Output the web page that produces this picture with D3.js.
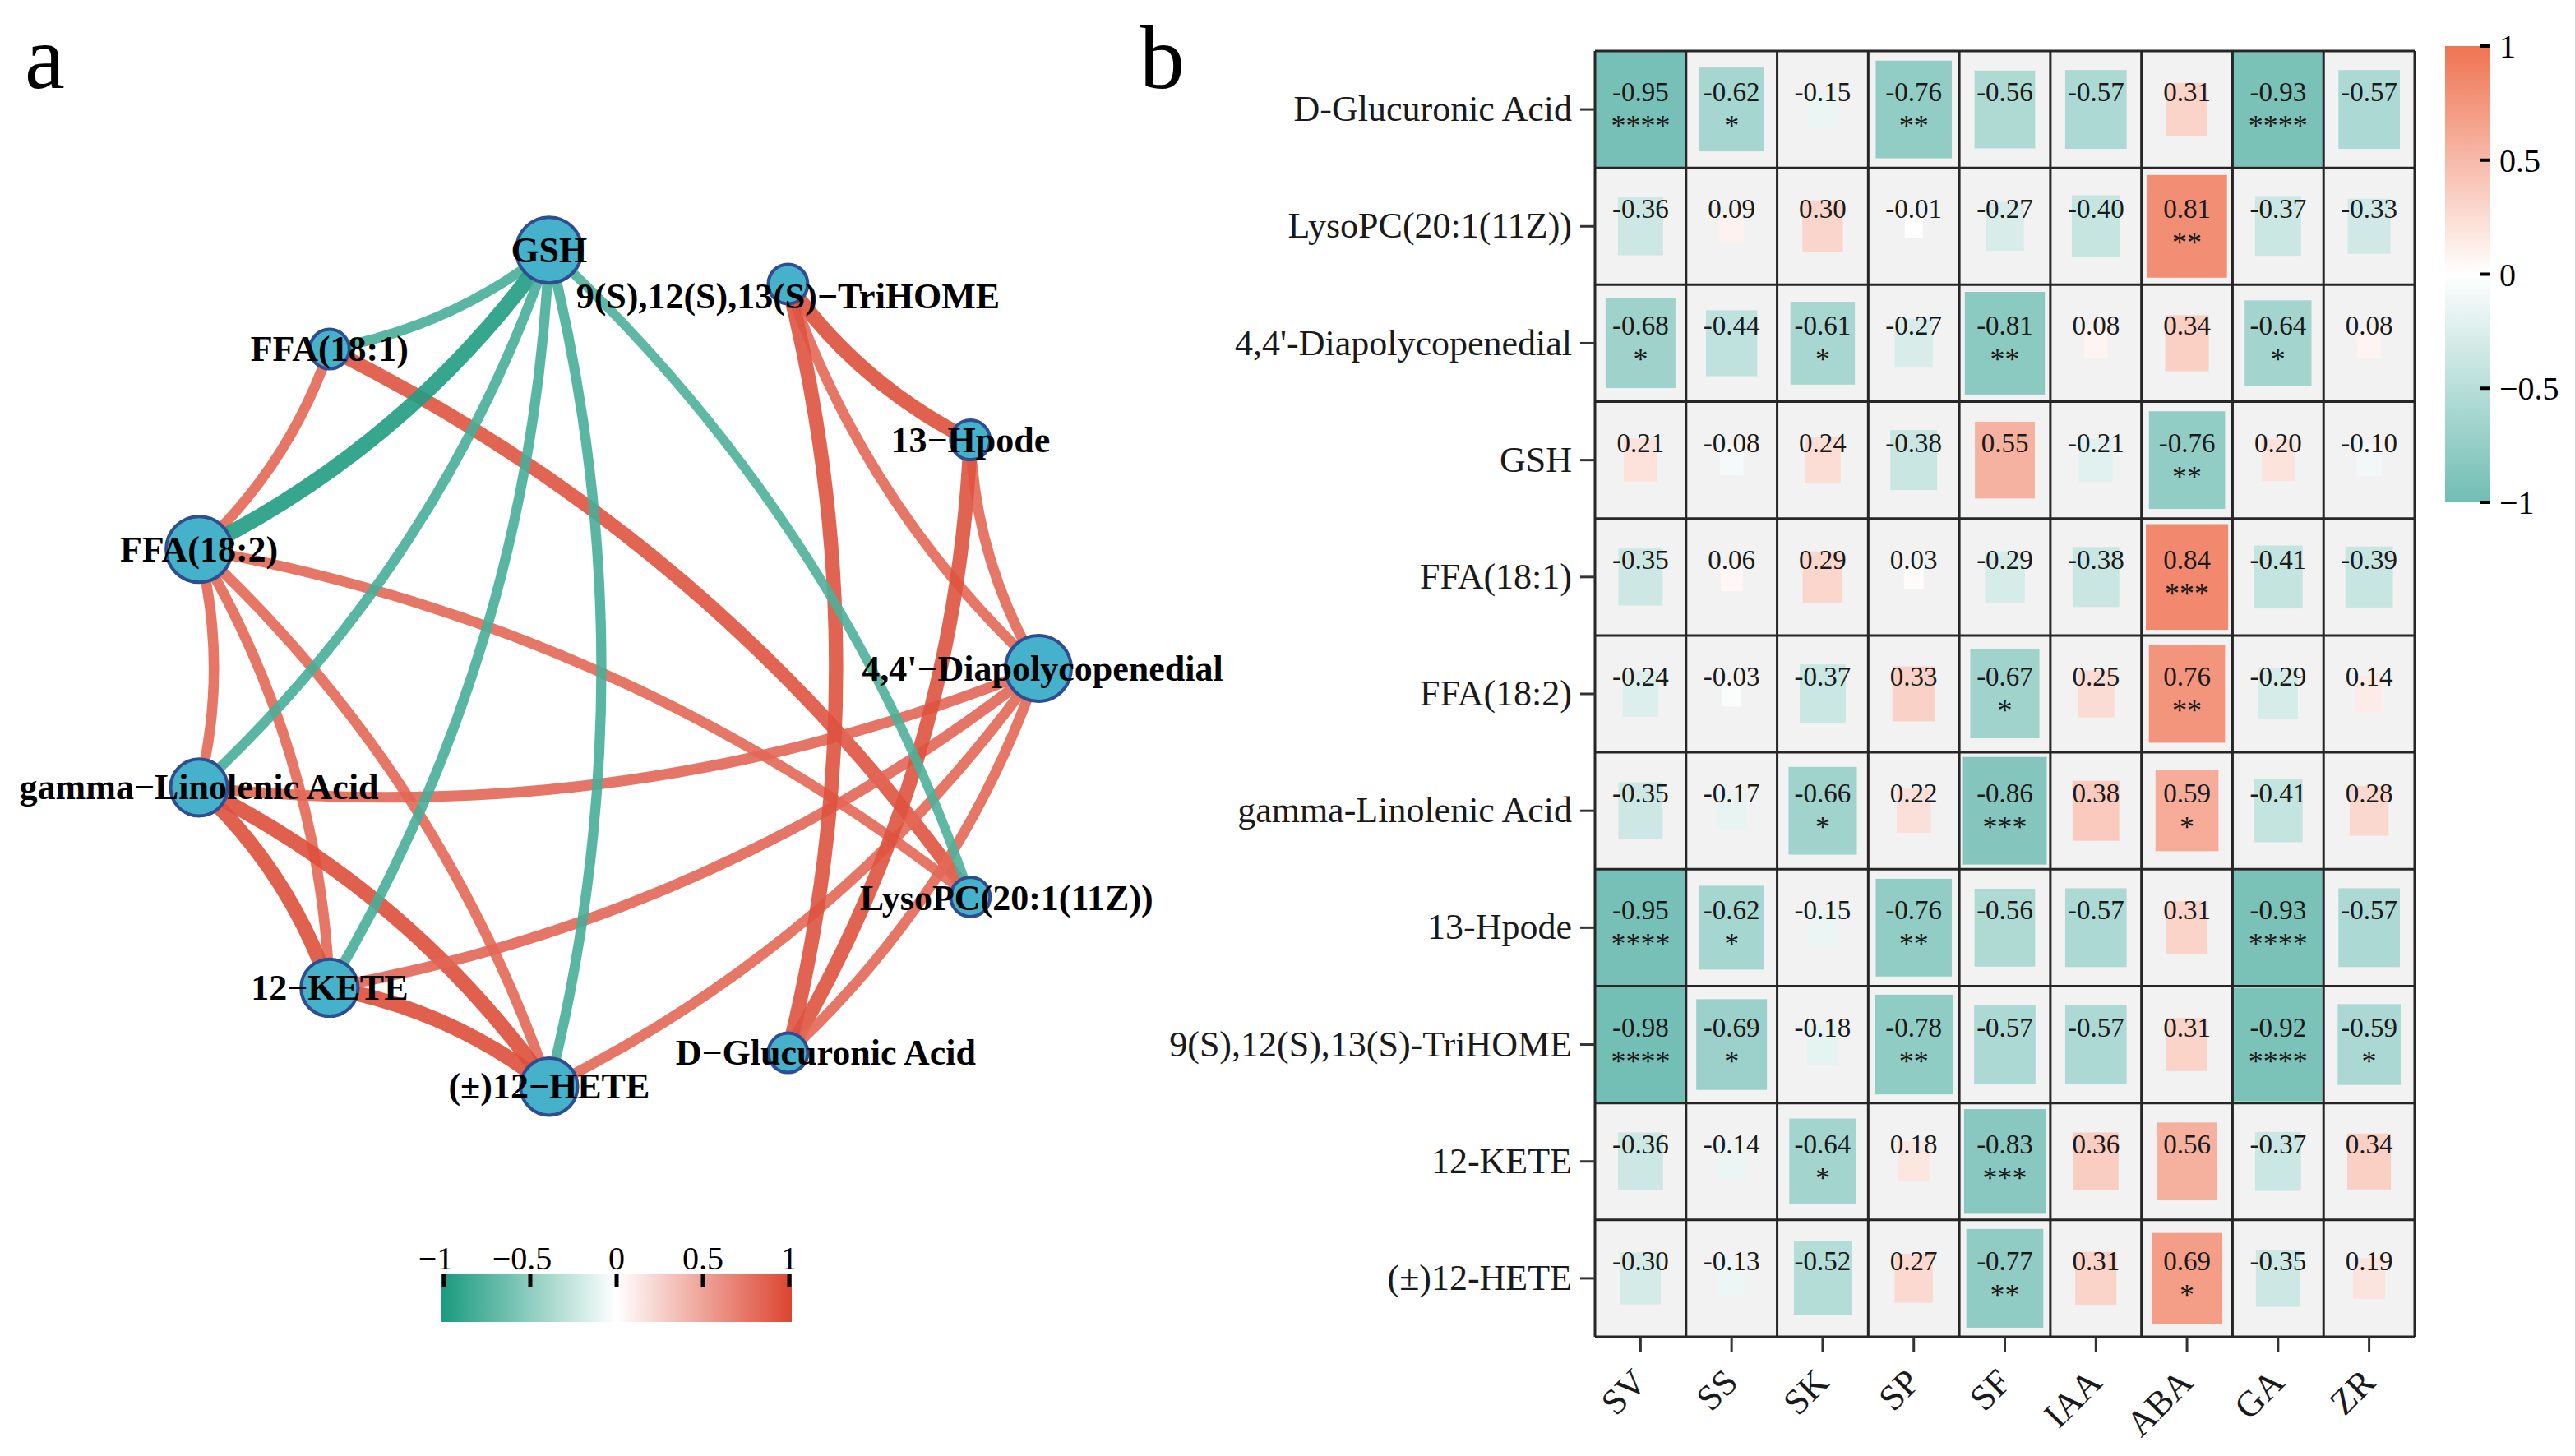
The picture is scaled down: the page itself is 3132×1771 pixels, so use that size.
<!DOCTYPE html>
<html>
<head>
<meta charset="utf-8">
<script src="https://cdn.jsdelivr.net/npm/d3@7"></script>
<style>
  html, body { margin: 0; padding: 0; background: #fff; }
  svg text { font-family: "Liberation Serif", "Times New Roman", serif; }
</style>
</head>
<body>
<div id="chart"></div>
<script>
// ---- panel a: correlation network ----
// nodes in circular layout order (counter-clockwise from the right)
const nodeNames = ["4,4'−Diapolycopenedial", '13−Hpode', '9(S),12(S),13(S)−TriHOME', 'GSH',
    'FFA(18:1)', 'FFA(18:2)', 'gamma−Linolenic Acid', '12−KETE', '(±)12−HETE',
    'D−Glucuronic Acid', 'LysoPC(20:1(11Z))'];

const edgeFrom = ['FFA(18:1)', 'FFA(18:1)', 'FFA(18:2)', 'FFA(18:2)', 'FFA(18:2)', 'FFA(18:2)',
    'gamma−Linolenic Acid', 'gamma−Linolenic Acid', 'gamma−Linolenic Acid', '12−KETE', '12−KETE',
    '(±)12−HETE', '9(S),12(S),13(S)−TriHOME', '9(S),12(S),13(S)−TriHOME', '9(S),12(S),13(S)−TriHOME',
    '13−Hpode', '13−Hpode', "4,4'−Diapolycopenedial",
    'GSH', 'GSH', 'GSH', 'GSH', 'GSH', 'GSH'];
const edgeTo = ['FFA(18:2)', 'LysoPC(20:1(11Z))', 'gamma−Linolenic Acid', '12−KETE', '(±)12−HETE', 'LysoPC(20:1(11Z))',
    "4,4'−Diapolycopenedial", '12−KETE', '(±)12−HETE', '(±)12−HETE', "4,4'−Diapolycopenedial",
    "4,4'−Diapolycopenedial", '13−Hpode', "4,4'−Diapolycopenedial", 'D−Glucuronic Acid',
    "4,4'−Diapolycopenedial", 'D−Glucuronic Acid', 'D−Glucuronic Acid',
    'FFA(18:1)', 'FFA(18:2)', 'gamma−Linolenic Acid', '12−KETE', '(±)12−HETE', 'LysoPC(20:1(11Z))'];
const edgeR = [0.81, 0.92, 0.81, 0.81, 0.81, 0.81,
    0.82, 0.94, 0.95, 0.95, 0.82,
    0.81, 0.94, 0.81, 0.93,
    0.81, 0.93, 0.81,
    -0.80, -0.97, -0.80, -0.80, -0.80, -0.78];

const netLegendTicks = [-1, -0.5, 0, 0.5, 1];

// ---- panel b: correlation heatmap ----
const rowNames = ['D-Glucuronic Acid', 'LysoPC(20:1(11Z))', "4,4'-Diapolycopenedial", 'GSH', 'FFA(18:1)',
    'FFA(18:2)', 'gamma-Linolenic Acid', '13-Hpode', '9(S),12(S),13(S)-TriHOME', '12-KETE', '(±)12-HETE'];
const colNames = ['SV', 'SS', 'SK', 'SP', 'SF', 'IAA', 'ABA', 'GA', 'ZR'];
const corrValues = [
    [-0.95, -0.62, -0.15, -0.76, -0.56, -0.57, 0.31, -0.93, -0.57],
    [-0.36, 0.09, 0.30, -0.01, -0.27, -0.40, 0.81, -0.37, -0.33],
    [-0.68, -0.44, -0.61, -0.27, -0.81, 0.08, 0.34, -0.64, 0.08],
    [0.21, -0.08, 0.24, -0.38, 0.55, -0.21, -0.76, 0.20, -0.10],
    [-0.35, 0.06, 0.29, 0.03, -0.29, -0.38, 0.84, -0.41, -0.39],
    [-0.24, -0.03, -0.37, 0.33, -0.67, 0.25, 0.76, -0.29, 0.14],
    [-0.35, -0.17, -0.66, 0.22, -0.86, 0.38, 0.59, -0.41, 0.28],
    [-0.95, -0.62, -0.15, -0.76, -0.56, -0.57, 0.31, -0.93, -0.57],
    [-0.98, -0.69, -0.18, -0.78, -0.57, -0.57, 0.31, -0.92, -0.59],
    [-0.36, -0.14, -0.64, 0.18, -0.83, 0.36, 0.56, -0.37, 0.34],
    [-0.30, -0.13, -0.52, 0.27, -0.77, 0.31, 0.69, -0.35, 0.19]
];
const corrStars = [
    ['****', '*', '', '**', '', '', '', '****', ''],
    ['', '', '', '', '', '', '**', '', ''],
    ['*', '', '*', '', '**', '', '', '*', ''],
    ['', '', '', '', '', '', '**', '', ''],
    ['', '', '', '', '', '', '***', '', ''],
    ['', '', '', '', '*', '', '**', '', ''],
    ['', '', '*', '', '***', '', '*', '', ''],
    ['****', '*', '', '**', '', '', '', '****', ''],
    ['****', '*', '', '**', '', '', '', '****', '*'],
    ['', '', '*', '', '***', '', '', '', ''],
    ['', '', '', '', '**', '', '*', '', '']
];
const heatLegendTicks = [1, 0.5, 0, -0.5, -1];

// ---- canvas ----
const W = 3132, H = 1771;
const svg = d3.select('#chart').append('svg')
    .attr('width', W).attr('height', H)
    .attr('viewBox', `0 0 ${W} ${H}`);
svg.append('rect').attr('width', W).attr('height', H).attr('fill', '#fff');
const defs = svg.append('defs');
const fmtTick = v => String(v).replace('-', '−');

// panel letters
svg.append('text').attr('x', 30).attr('y', 107).attr('font-size', 110).text('a');
svg.append('text').attr('x', 1386).attr('y', 107).attr('font-size', 110).text('b');

// ================= network =================
const edgeColor = d3.scaleLinear().domain([-1, 0, 1]).range(['#199a7e', '#ffffff', '#dc4530']);
const edgeWidth = d3.scaleLinear().domain([0.78, 0.97]).range([11.5, 19]).clamp(true);

const cx = 742, cy = 813, rx = 521, ry = 514;
const angle = d3.scaleLinear().domain([0, nodeNames.length]).range([0, 2 * Math.PI]);
const nodes = nodeNames.map((name, i) => ({
    name, i,
    x: cx + rx * Math.cos(angle(i)),
    y: cy - ry * Math.sin(angle(i)),
    degree: 0
}));
const byName = new Map(nodes.map(n => [n.name, n]));

const edges = edgeFrom.map((f, i) => {
    let a = byName.get(f), b = byName.get(edgeTo[i]);
    if (a.i > b.i) [a, b] = [b, a];
    a.degree++; b.degree++;
    return { a, b, r: edgeR[i] };
});

// curved edges: quadratic bend to the right of the from->to direction
const bend = 0.125;
const edgePath = e => {
    const dx = e.b.x - e.a.x, dy = e.b.y - e.a.y;
    const mx = (e.a.x + e.b.x) / 2 + bend * dy;
    const my = (e.a.y + e.b.y) / 2 - bend * dx;
    const p = d3.path();
    p.moveTo(e.a.x, e.a.y);
    p.quadraticCurveTo(mx, my, e.b.x, e.b.y);
    return p.toString();
};

const net = svg.append('g');
net.selectAll('path.edge')
    .data(edges)
    .enter()
    .append('path')
    .attr('class', 'edge')
    .attr('d', edgePath)
    .attr('fill', 'none')
    .attr('stroke', d => edgeColor(d.r))
    .attr('stroke-width', d => edgeWidth(Math.abs(d.r)))
    .attr('stroke-opacity', 0.9);

const nodeRadius = d3.scaleLinear().domain([3, 6]).range([24, 40]);
net.selectAll('circle.node')
    .data(nodes)
    .enter()
    .append('circle')
    .attr('class', 'node')
    .attr('cx', d => d.x)
    .attr('cy', d => d.y)
    .attr('r', d => nodeRadius(d.degree))
    .attr('fill', '#45b1cb')
    .attr('stroke', '#2f4d91')
    .attr('stroke-width', 4);

// small label nudges (repelled labels in the original)
const labelNudge = {
    '9(S),12(S),13(S)−TriHOME': [0, 15],
    "4,4'−Diapolycopenedial": [5, 0],
    'LysoPC(20:1(11Z))': [44, 2],
    'D−Glucuronic Acid': [46, 0]
};
net.selectAll('text.label')
    .data(nodes)
    .enter()
    .append('text')
    .attr('class', 'label')
    .attr('x', d => d.x + (labelNudge[d.name] || [0, 0])[0])
    .attr('y', d => d.y + (labelNudge[d.name] || [0, 0])[1])
    .attr('dy', '0.33em')
    .attr('text-anchor', 'middle')
    .attr('font-size', 44)
    .attr('font-weight', 'bold')
    .attr('fill', '#000')
    .text(d => d.name);

// network colour legend
const nl = d3.scaleLinear().domain([-1, 1]).range([540, 960]);
const nlTop = 1550, nlH = 58;
const gradA = defs.append('linearGradient').attr('id', 'gradA')
    .attr('x1', '0%').attr('x2', '100%').attr('y1', '0%').attr('y2', '0%');
d3.range(-1, 1.001, 0.1).forEach(v => {
    gradA.append('stop').attr('offset', `${(v + 1) / 2 * 100}%`).attr('stop-color', edgeColor(v));
});
const leg = svg.append('g');
leg.append('rect')
    .attr('x', nl(-1) - 3).attr('y', nlTop)
    .attr('width', nl(1) - nl(-1) + 6).attr('height', nlH)
    .attr('fill', 'url(#gradA)');
leg.selectAll('line')
    .data(netLegendTicks)
    .enter()
    .append('line')
    .attr('x1', d => nl(d)).attr('x2', d => nl(d))
    .attr('y1', nlTop).attr('y2', nlTop + 16)
    .attr('stroke', '#000').attr('stroke-width', 5);
leg.selectAll('text')
    .data(netLegendTicks)
    .enter()
    .append('text')
    .attr('x', d => nl(d) - (d < 0 ? 10 : 0))
    .attr('y', nlTop - 6)
    .attr('text-anchor', 'middle')
    .attr('font-size', 40)
    .text(fmtTick);

// ================= heatmap =================
const heatColor = d3.scaleLinear().domain([-1, 0, 1]).range(['#70bdb3', '#ffffff', '#ef7352']);
const sizeFrac = d3.scaleLinear().domain([0, 1]).range([0.19, 1.04]).clamp(true);

const hx = d3.scaleBand().domain(colNames).range([1940, 2937]);
const hy = d3.scaleBand().domain(rowNames).range([62, 1626]);
const cw = hx.bandwidth(), ch = hy.bandwidth();

const cells = [];
rowNames.forEach((row, i) => colNames.forEach((col, j) => {
    cells.push({ row, col, r: corrValues[i][j], star: corrStars[i][j] });
}));

const hm = svg.append('g');
hm.selectAll('rect.bg')
    .data(cells)
    .enter()
    .append('rect')
    .attr('class', 'bg')
    .attr('x', d => hx(d.col)).attr('y', d => hy(d.row))
    .attr('width', cw).attr('height', ch)
    .attr('fill', '#f2f2f2');

hm.selectAll('rect.val')
    .data(cells)
    .enter()
    .append('rect')
    .attr('class', 'val')
    .attr('x', d => hx(d.col) + cw * (1 - Math.min(1, sizeFrac(Math.abs(d.r)))) / 2)
    .attr('y', d => hy(d.row) + ch * (1 - Math.min(1, sizeFrac(Math.abs(d.r)))) / 2)
    .attr('width', d => cw * Math.min(1, sizeFrac(Math.abs(d.r))))
    .attr('height', d => ch * Math.min(1, sizeFrac(Math.abs(d.r))))
    .attr('fill', d => heatColor(d.r));

// grid lines
hm.selectAll('line.vg')
    .data(d3.range(colNames.length + 1))
    .enter()
    .append('line')
    .attr('x1', i => 1940 + i * cw).attr('x2', i => 1940 + i * cw)
    .attr('y1', 62).attr('y2', 1626)
    .attr('stroke', '#262626').attr('stroke-width', 3);
hm.selectAll('line.hg')
    .data(d3.range(rowNames.length + 1))
    .enter()
    .append('line')
    .attr('y1', i => 62 + i * ch).attr('y2', i => 62 + i * ch)
    .attr('x1', 1940).attr('x2', 2937)
    .attr('stroke', '#262626').attr('stroke-width', 3);

hm.selectAll('text.num')
    .data(cells)
    .enter()
    .append('text')
    .attr('class', 'num')
    .attr('x', d => hx(d.col) + cw / 2)
    .attr('y', d => hy(d.row) + ch / 2 - 10)
    .attr('text-anchor', 'middle')
    .attr('font-size', 33)
    .attr('fill', '#1a1a1a')
    .text(d => d.r.toFixed(2));

hm.selectAll('text.star')
    .data(cells.filter(d => d.star))
    .enter()
    .append('text')
    .attr('class', 'star')
    .attr('x', d => hx(d.col) + cw / 2)
    .attr('y', d => hy(d.row) + ch / 2 + 32)
    .attr('text-anchor', 'middle')
    .attr('font-size', 36)
    .attr('fill', '#1a1a1a')
    .text(d => d.star);

// axes
const yAxis = svg.append('g')
    .attr('transform', 'translate(1940,0)')
    .call(d3.axisLeft(hy).tickSize(18).tickPadding(10));
yAxis.select('.domain').remove();
yAxis.selectAll('line').attr('stroke', '#333').attr('stroke-width', 3);
yAxis.selectAll('text').attr('font-size', 44).attr('fill', '#1a1a1a')
    .attr('font-family', '"Liberation Serif", serif');

const xAxis = svg.append('g')
    .attr('transform', 'translate(0,1626)')
    .call(d3.axisBottom(hx).tickSize(18));
xAxis.select('.domain').remove();
xAxis.selectAll('line').attr('stroke', '#333').attr('stroke-width', 3);
xAxis.selectAll('text')
    .attr('font-size', 44).attr('fill', '#1a1a1a')
    .attr('font-family', '"Liberation Serif", serif')
    .attr('text-anchor', 'end')
    .attr('y', 0).attr('dy', '0.7em')
    .attr('transform', 'translate(-12,36) rotate(-45)');

// heatmap colour legend
const hl = d3.scaleLinear().domain([-1, 1]).range([611, 56]);
const gradB = defs.append('linearGradient').attr('id', 'gradB')
    .attr('x1', '0%').attr('x2', '0%').attr('y1', '100%').attr('y2', '0%');
d3.range(-1, 1.001, 0.1).forEach(v => {
    gradB.append('stop').attr('offset', `${(v + 1) / 2 * 100}%`).attr('stop-color', heatColor(v));
});
const hleg = svg.append('g');
hleg.append('rect')
    .attr('x', 2974).attr('y', hl(1))
    .attr('width', 55).attr('height', hl(-1) - hl(1))
    .attr('fill', 'url(#gradB)');
hleg.selectAll('line')
    .data(heatLegendTicks)
    .enter()
    .append('line')
    .attr('x1', 3016).attr('x2', 3029)
    .attr('y1', d => hl(d)).attr('y2', d => hl(d))
    .attr('stroke', '#000').attr('stroke-width', 4);
hleg.selectAll('text')
    .data(heatLegendTicks)
    .enter()
    .append('text')
    .attr('x', 3040)
    .attr('y', d => hl(d))
    .attr('dy', '0.35em')
    .attr('font-size', 40)
    .text(fmtTick);
</script>
</body>
</html>
